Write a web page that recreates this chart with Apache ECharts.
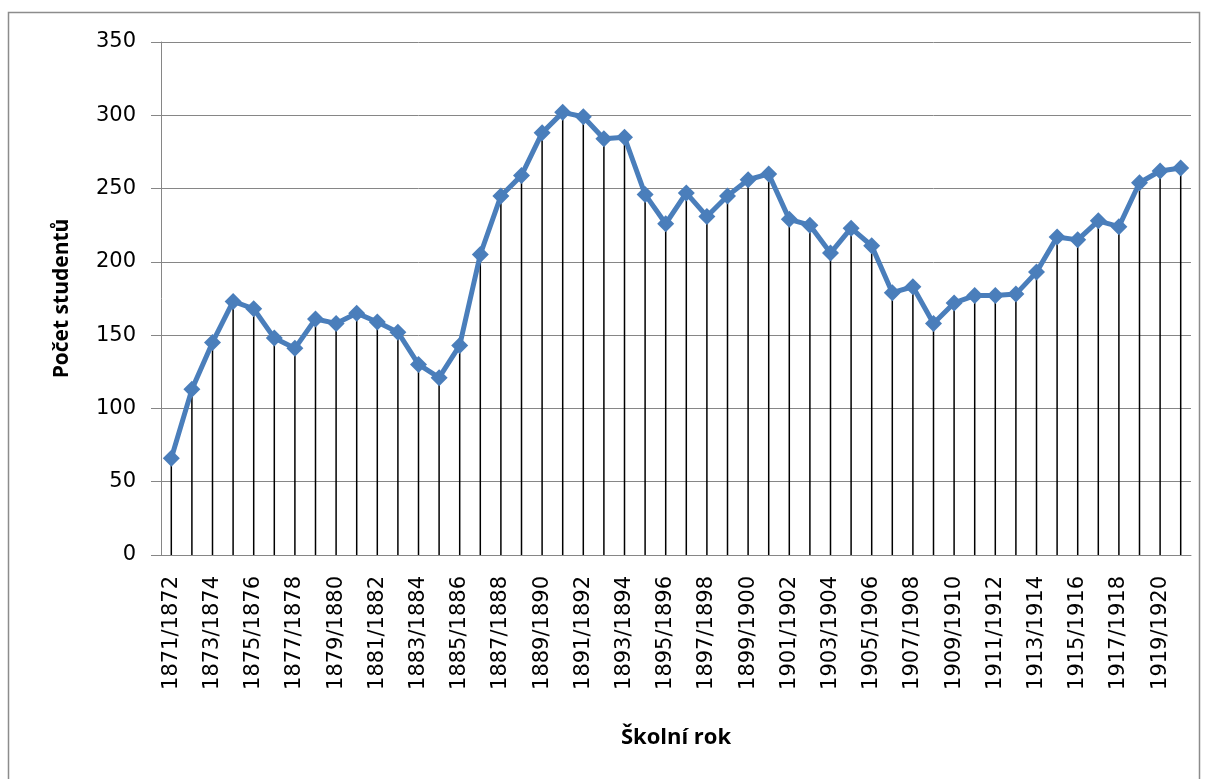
<!DOCTYPE html>
<html><head><meta charset="utf-8">
<script src="https://cdn.jsdelivr.net/npm/echarts@6/dist/echarts.min.js"></script>
<style>html,body{margin:0;padding:0;background:#fff}#c{width:1209px;height:779px}</style>
</head><body><div id="c"></div>
<script>
var categories = ["1871/1872","1872/1873","1873/1874","1874/1875","1875/1876","1876/1877","1877/1878","1878/1879","1879/1880","1880/1881",
"1881/1882","1882/1883","1883/1884","1884/1885","1885/1886","1886/1887","1887/1888","1888/1889","1889/1890","1890/1891",
"1891/1892","1892/1893","1893/1894","1894/1895","1895/1896","1896/1897","1897/1898","1898/1899","1899/1900","1900/1901",
"1901/1902","1902/1903","1903/1904","1904/1905","1905/1906","1906/1907","1907/1908","1908/1909","1909/1910","1910/1911",
"1911/1912","1912/1913","1913/1914","1914/1915","1915/1916","1916/1917","1917/1918","1918/1919","1919/1920","1920/1921"];
var students = [66,113,145,173,168,148,141,161,158,165,
159,152,130,121,143,205,245,259,288,302,
299,284,285,246,226,247,231,245,256,260,
229,225,206,223,211,179,183,158,172,177,
177,178,193,217,215,228,224,254,262,264];
var yTicks = {min:0, max:350, interval:50};
var xTitle = "Školní rok";
var yTitle = "Počet studentů";

var chart = echarts.init(document.getElementById('c'));
var titleFont = "Open Sans";
var tickFont = "DejaVu Sans";
chart.setOption({
  animation:false,
  backgroundColor:'#fff',
  graphic:[{type:'rect',shape:{x:8.5,y:12.5,width:1191,height:780},style:{fill:'none',stroke:'#8c8c8c',lineWidth:1.5},silent:true}],
  grid:{left:161,right:18,top:42,bottom:224},
  xAxis:{type:'category',data:categories,boundaryGap:true,
    name:xTitle,nameLocation:'middle',nameGap:172,
    nameTextStyle:{fontFamily:titleFont,fontWeight:'bold',fontSize:22,color:'#000'},
    axisLine:{lineStyle:{color:'#868686',width:1}},
    axisTick:{show:false},
    axisLabel:{interval:1,rotate:90,margin:21,fontSize:21,color:'#000',fontFamily:tickFont}},
  yAxis:{type:'value',min:yTicks.min,max:yTicks.max,interval:yTicks.interval,
    name:yTitle,nameLocation:'middle',nameGap:88,nameRotate:90,
    nameTextStyle:{fontFamily:titleFont,fontWeight:'bold',fontSize:21,color:'#000'},
    axisLine:{show:true,lineStyle:{color:'#868686',width:1}},
    axisTick:{show:true,length:10,lineStyle:{color:'#868686'}},
    splitLine:{lineStyle:{color:'#868686',width:1}},
    axisLabel:{margin:25,fontSize:21,color:'#000',fontFamily:tickFont}},
  series:[
    {type:'bar',data:students,barWidth:1.5,itemStyle:{color:'#000'},z:1,silent:true},
    {type:'line',data:students,z:3,symbol:'diamond',symbolSize:17,showAllSymbol:true,
     lineStyle:{color:'#4a7ebb',width:5},itemStyle:{color:'#4a7ebb'}}
  ]
});
</script></body></html>
